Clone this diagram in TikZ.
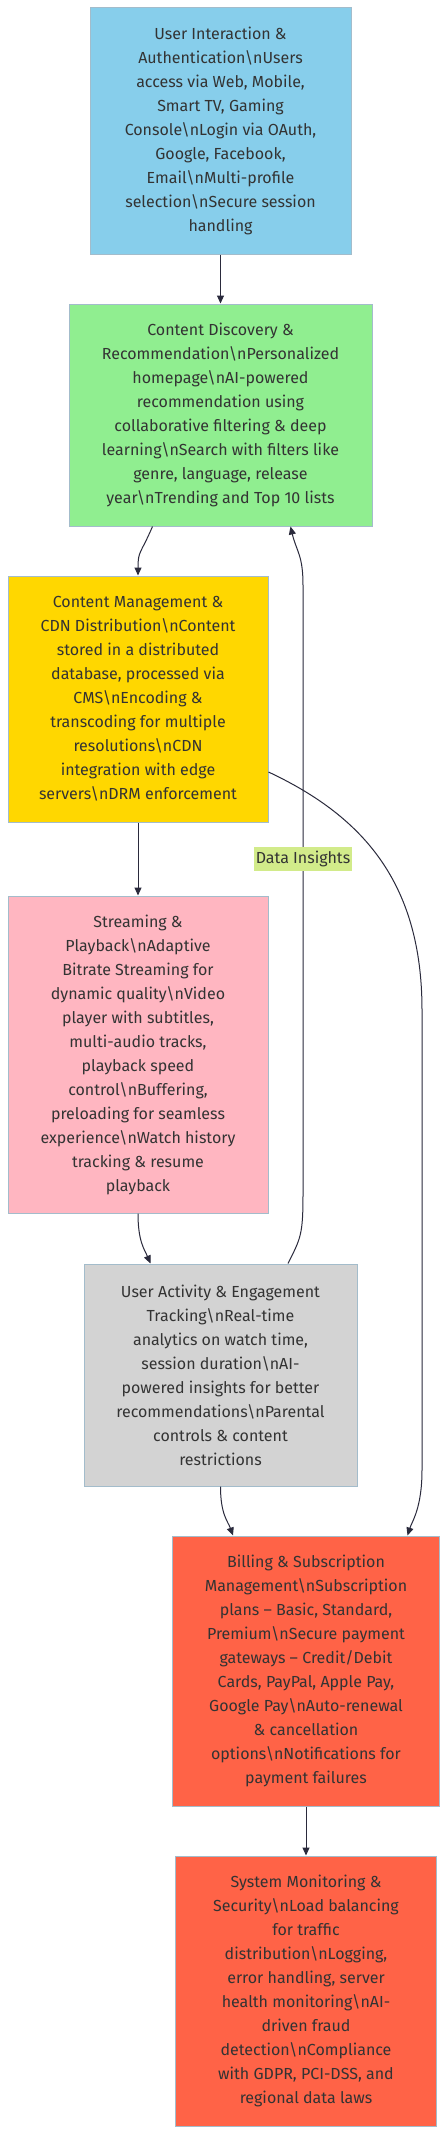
\documentclass[tikz,border=0pt]{standalone}
\usepackage{fontspec}
\setmainfont{Fira Sans}
\usepackage{tikz}
\usetikzlibrary{arrows.meta,calc}
\definecolor{skyBox}{HTML}{87CEEB}
\definecolor{greenBox}{HTML}{90EE90}
\definecolor{goldBox}{HTML}{FFD700}
\definecolor{pinkBox}{HTML}{FFB6C1}
\definecolor{greyBox}{HTML}{D3D3D3}
\definecolor{tomatoBox}{HTML}{FF6347}
\definecolor{boxEdge}{HTML}{A3BCCB}
\definecolor{flowLine}{HTML}{2A2A3C}
\definecolor{labelBg}{HTML}{D2EB8A}
\definecolor{textGrey}{HTML}{333333}
\newcommand{\esc}{\textbackslash n}

\begin{document}
\begin{tikzpicture}[x=1pt, y=-1pt,
  stage/.style={draw=boxEdge, line width=1pt, align=center, text=textGrey,
    inner sep=0pt, font=\fontsize{16}{24}\selectfont},
  flow/.style={draw=flowLine, line width=1pt, -{Triangle[length=8pt,width=7pt]}},
  insight/.style={fill=labelBg, text=textGrey, inner xsep=2pt, inner ysep=0pt,
    minimum height=24, font=\fontsize{16}{19}\selectfont}]
  \fill[white] (0,0) rectangle (447,2134);
  \useasboundingbox (0,0) rectangle (447,2134);

  % Stages
  \node[stage, fill=skyBox, minimum width=261, minimum height=247] (auth) at (220.5,130.5)
    {User Interaction \&\\Authentication\esc Users\\access via Web, Mobile,\\Smart TV, Gaming\\
     Console\esc Login via OAuth,\\Google, Facebook,\\Email\esc Multi-profile\\
     selection\esc Secure session\\handling};
  \node[stage, fill=greenBox, minimum width=303, minimum height=222] (disc) at (220.5,415)
    {Content Discovery \&\\Recommendation\esc Personalized\\homepage\esc AI-powered\\
     recommendation using\\collaborative filtering \& deep\\learning\esc Search with filters like\\
     genre, language, release\\year\esc Trending and Top 10 lists};
  \node[stage, fill=goldBox, minimum width=260, minimum height=246] (cms) at (138,699)
    {Content Management \&\\CDN Distribution\esc Content\\stored in a distributed\\
     database, processed via\\CMS\esc Encoding \&\\transcoding for multiple\\
     resolutions\esc CDN\\integration with edge\\servers\esc DRM enforcement};
  \node[stage, fill=pinkBox, minimum width=260, minimum height=317] (stream) at (138,1054.5)
    {Streaming \&\\Playback\esc Adaptive\\Bitrate Streaming for\\dynamic quality\esc Video\\
     player with subtitles,\\multi-audio tracks,\\playback speed\\control\esc Buffering,\\
     preloading for seamless\\experience\esc Watch history\\tracking \& resume\\playback};
  \node[stage, fill=greyBox, minimum width=273, minimum height=222] (act) at (220.5,1375)
    {User Activity \& Engagement\\Tracking\esc Real-time\\analytics on watch time,\\
     session duration\esc AI-\\powered insights for better\\recommendations\esc Parental\\
     controls \& content\\restrictions};
  \node[stage, fill=tomatoBox, minimum width=267, minimum height=270] (bill) at (306,1671)
    {Billing \& Subscription\\Management\esc Subscription\\plans -- Basic, Standard,\\
     Premium\esc Secure payment\\gateways -- Credit/Debit\\Cards, PayPal, Apple Pay,\\
     Google Pay\esc Auto-renewal\\\& cancellation\\options\esc Notifications for\\
     payment failures};
  \node[stage, fill=tomatoBox, minimum width=261, minimum height=270] (mon) at (306,1991)
    {System Monitoring \&\\Security\esc Load balancing\\for traffic\\
     distribution\esc Logging,\\error handling, server\\health monitoring\esc AI-\\
     driven fraud\\detection\esc Compliance\\with GDPR, PCI-DSS, and\\regional data laws};

  % Flows
  \draw[flow] (auth) -- (disc);
  \draw[flow] ($(disc.south)+(-68,0)$) .. controls ($(disc.south)+(-80,28)$)
    and ($(cms.north)+(0,-25)$) .. (cms.north);
  \draw[flow] (cms) -- (stream);
  \draw[flow] (stream.south) .. controls ($(stream.south)+(0,28)$)
    and ($(act.north)+(-76,-14)$) .. ($(act.north)+(-70,0)$);
  \draw[flow] ($(act.north)+(67.5,0)$) .. controls ($(act.north)+(80,-25)$)
    and (303,1235) .. (303,1195)
    -- node[insight, pos=0.551] {Data Insights} (303,585)
    .. controls (303,555) and ($(disc.south)+(76,25)$) .. ($(disc.south)+(70,0)$);
  \draw[flow] ($(cms.east)+(0,73)$) .. controls (360,815) and (422,880) .. (422,1010)
    -- (422,1470) .. controls (422,1508) and ($(bill.north)+(106,-14)$) .. ($(bill.north)+(101.5,0)$);
  \draw[flow] (act.south) .. controls ($(act.south)+(0,28)$)
    and ($(bill.north)+(-78,-14)$) .. ($(bill.north)+(-73,0)$);
  \draw[flow] (bill) -- (mon);
\end{tikzpicture}
\end{document}
